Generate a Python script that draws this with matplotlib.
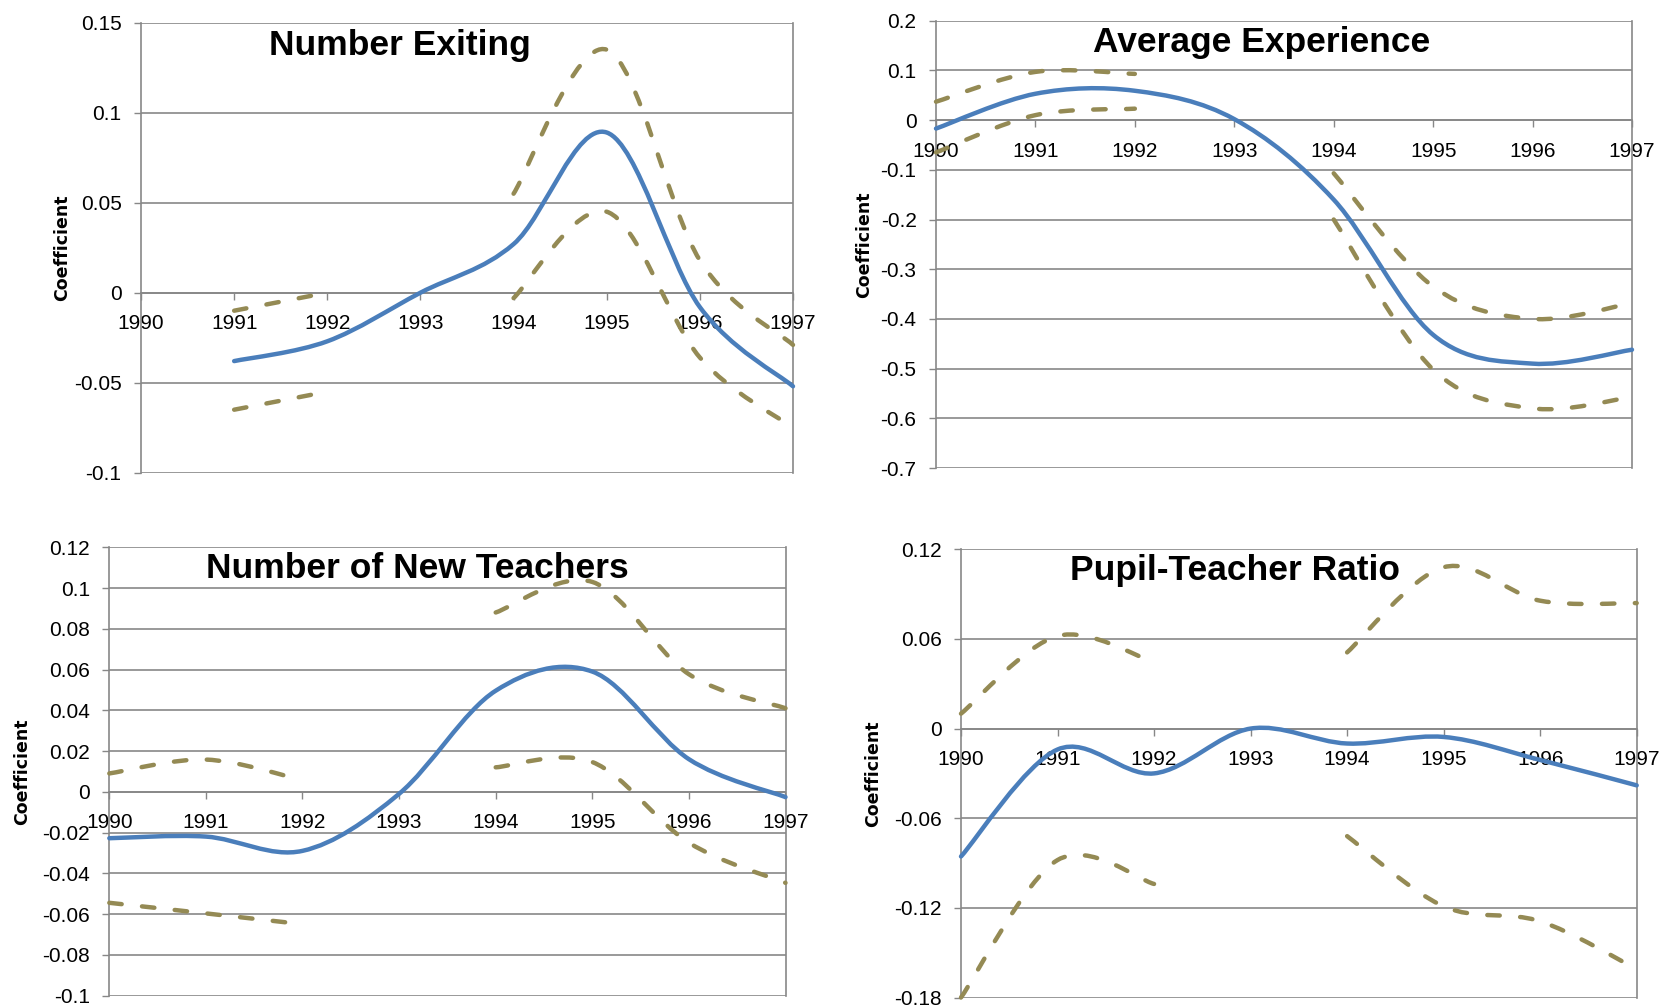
import numpy as np
import matplotlib
matplotlib.use('Agg')
import matplotlib.pyplot as plt
from matplotlib.path import Path
from matplotlib.patches import PathPatch

nan = np.nan
years = [1990, 1991, 1992, 1993, 1994, 1995, 1996, 1997]
year_labels = [str(y) for y in years]

# Number Exiting
exit_coef = [nan, -0.038, -0.027, 0.000, 0.027, 0.089, -0.008, -0.052]
exit_upper = [nan, -0.010, 0.000, nan, 0.055, 0.135, 0.018, -0.029]
exit_lower = [nan, -0.065, -0.055, nan, -0.003, 0.045, -0.036, -0.075]
exit_ticks = [-0.1, -0.05, 0, 0.05, 0.1, 0.15]
exit_tick_labels = ['-0.1', '-0.05', '0', '0.05', '0.1', '0.15']

# Average Experience
exper_coef = [-0.017, 0.053, 0.059, 0.002, -0.160, -0.432, -0.490, -0.462]
exper_upper = [0.037, 0.097, 0.093, nan, -0.107, -0.335, -0.400, -0.368]
exper_lower = [-0.065, 0.010, 0.023, nan, -0.200, -0.502, -0.580, -0.557]
exper_ticks = [-0.7, -0.6, -0.5, -0.4, -0.3, -0.2, -0.1, 0, 0.1, 0.2]
exper_tick_labels = ['-0.7', '-0.6', '-0.5', '-0.4', '-0.3', '-0.2', '-0.1', '0', '0.1', '0.2']

# Number of New Teachers
new_coef = [-0.0228, -0.022, -0.029, -0.001, 0.0496, 0.059, 0.016, -0.0026]
new_upper = [0.009, 0.0158, 0.0057, nan, 0.088, 0.103, 0.0577, 0.041]
new_lower = [-0.0545, -0.0597, -0.065, nan, 0.012, 0.0146, -0.025, -0.0447]
new_ticks = [-0.1, -0.08, -0.06, -0.04, -0.02, 0, 0.02, 0.04, 0.06, 0.08, 0.1, 0.12]
new_tick_labels = ['-0.1', '-0.08', '-0.06', '-0.04', '-0.02', '0', '0.02', '0.04',
                   '0.06', '0.08', '0.1', '0.12']

# Pupil-Teacher Ratio
ptr_coef = [-0.0856, -0.014, -0.030, 0.000, -0.010, -0.0056, -0.021, -0.038]
ptr_upper = [0.010, 0.062, 0.0444, nan, 0.051, 0.108, 0.0856, 0.084]
ptr_lower = [-0.180, -0.088, -0.104, nan, -0.072, -0.119, -0.129, -0.161]
ptr_ticks = [-0.18, -0.12, -0.06, 0, 0.06, 0.12]
ptr_tick_labels = ['-0.18', '-0.12', '-0.06', '0', '0.06', '0.12']

W, H = 1662, 1007
BLUE = '#4A7EBB'
OLIVE = '#948A54'
GRID = '#878787'


def smooth_path(xs, ys):
    """Excel-style smoothed line: cubic Bezier segments per contiguous run."""
    verts, codes = [], []
    segs, cur = [], []
    for x, y in zip(xs, ys):
        if np.isnan(y):
            if cur:
                segs.append(cur)
            cur = []
        else:
            cur.append((x, y))
    if cur:
        segs.append(cur)
    for seg in segs:
        if len(seg) < 2:
            continue
        P = np.array(seg, dtype=float)
        n = len(P)
        verts.append(P[0]); codes.append(Path.MOVETO)
        for i in range(n - 1):
            p0 = P[i - 1] if i > 0 else P[i]
            p1, p2 = P[i], P[i + 1]
            p3 = P[i + 2] if i + 2 < n else P[i + 1]
            c1 = p1 + (p2 - p0) / 6.0
            c2 = p2 - (p3 - p1) / 6.0
            verts += [c1, c2, p2]
            codes += [Path.CURVE4] * 3
    return Path(verts, codes)


def add_line(ax, ys, color, dashed):
    path = smooth_path(years, ys)
    kw = dict(fill=False, edgecolor=color, lw=3.2, zorder=3,
              capstyle='round', joinstyle='round', clip_on=False)
    if dashed:
        kw['linestyle'] = (0, (2.8, 4.6))
    ax.add_patch(PathPatch(path, transform=ax.transData, **kw))


def make_axes(rect_px):
    l, r, t, b = rect_px
    return fig.add_axes([l / W, 1 - b / H, (r - l) / W, (b - t) / H])


def setup(ax, ticks, labels):
    ax.set_xlim(1990, 1997)
    ax.set_ylim(ticks[0], ticks[-1])
    ax.set_yticks(ticks)
    ax.set_yticklabels(labels)
    ax.set_xticks(years)
    ax.set_xticklabels(year_labels)
    ax.spines['top'].set_visible(False)
    ax.spines['bottom'].set_position(('data', 0))
    for s in ['left', 'right', 'bottom']:
        ax.spines[s].set_color(GRID)
        ax.spines[s].set_linewidth(1.2)
    ax.yaxis.grid(True, color=GRID, lw=1.2)
    ax.set_axisbelow(True)
    ax.tick_params(axis='both', direction='out', length=5, width=1.0,
                   color=GRID, labelsize=15, labelcolor='black')
    ax.tick_params(axis='y', pad=9)
    ax.tick_params(axis='x', pad=10.5)
    for lab in ax.get_xticklabels() + ax.get_yticklabels():
        lab.set_family('Liberation Sans')
    ax.patch.set_alpha(0)


fig = plt.figure(figsize=(W / 100, H / 100), dpi=100)

panels = [
    ((141, 793, 22.7, 472.7), exit_ticks, exit_tick_labels,
     exit_coef, exit_upper, exit_lower, 'Number Exiting', 399.5, 55, 62),
    ((936, 1632, 20.7, 468), exper_ticks, exper_tick_labels,
     exper_coef, exper_upper, exper_lower, 'Average Experience', 1262, 52, 864.5),
    ((109.3, 785.5, 547.3, 995.5), new_ticks, new_tick_labels,
     new_coef, new_upper, new_lower, 'Number of New Teachers', 417, 578.5, 22.5),
    ((961, 1636.7, 549.3, 997.5), ptr_ticks, ptr_tick_labels,
     ptr_coef, ptr_upper, ptr_lower, 'Pupil-Teacher Ratio', 1235, 580, 873.5),
]

for rect, ticks, labels, coef, up, lo, title, tx, ty, lx in panels:
    ax = make_axes(rect)
    setup(ax, ticks, labels)
    add_line(ax, up, OLIVE, True)
    add_line(ax, lo, OLIVE, True)
    add_line(ax, coef, BLUE, False)
    fig.text(tx / W, 1 - ty / H, title, ha='center', va='baseline',
             fontsize=25.5, fontweight='bold', family='Liberation Sans')
    cy = (rect[2] + rect[3]) / 2
    fig.text(lx / W, 1 - cy / H, 'Coefficient', rotation=90, ha='center',
             va='center', fontsize=12.5, fontweight='bold', family='DejaVu Sans')

fig.savefig('out.png', dpi=100)
